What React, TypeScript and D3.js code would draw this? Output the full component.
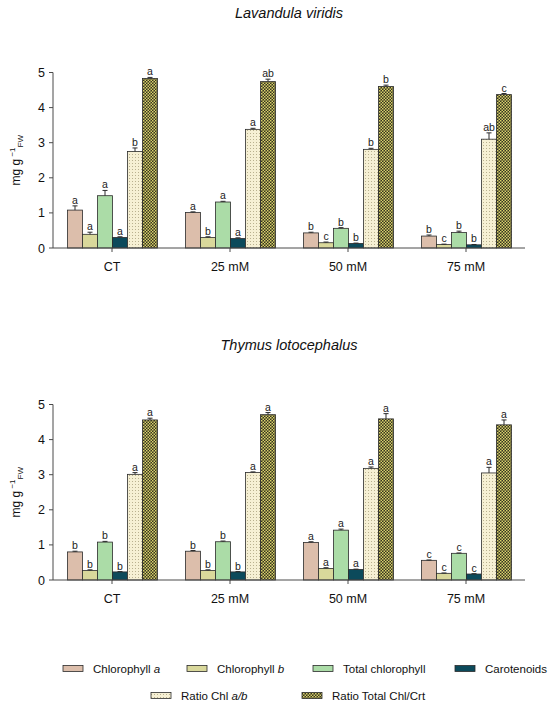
import React from "react";
import * as d3 from "d3";

const groups = ["CT", "25 mM", "50 mM", "75 mM"];
const seriesKeys = ["chla", "chlb", "total", "car", "ratioab", "ratiotot"];
const seriesFills = ["#dcbeab", "#d9d89b", "#abdca7", "#0c4a5b", "url(#dots)", "url(#checker)"];

const titles = ["Lavandula viridis", "Thymus lotocephalus"];

// Lavandula viridis: rows = groups, cols = series
const lavValues = [
  [1.08, 0.39, 1.49, 0.3, 2.75, 4.83],
  [1.01, 0.3, 1.31, 0.27, 3.38, 4.74],
  [0.43, 0.15, 0.56, 0.13, 2.81, 4.6],
  [0.34, 0.1, 0.44, 0.09, 3.1, 4.37],
];
const lavErrors = [
  [0.12, 0.06, 0.15, 0.02, 0.1, 0.03],
  [0.02, 0.02, 0.02, 0.02, 0.03, 0.07],
  [0.02, 0.02, 0.02, 0.01, 0.03, 0.04],
  [0.03, 0.01, 0.04, 0.01, 0.18, 0.03],
];
const lavLetters = [
  ["a", "a", "a", "a", "b", "a"],
  ["a", "b", "a", "a", "a", "ab"],
  ["b", "c", "b", "b", "b", "b"],
  ["b", "c", "b", "b", "ab", "c"],
];

// Thymus lotocephalus
const thyValues = [
  [0.8, 0.27, 1.08, 0.23, 3.01, 4.56],
  [0.82, 0.27, 1.09, 0.23, 3.06, 4.71],
  [1.07, 0.33, 1.42, 0.3, 3.18, 4.59],
  [0.56, 0.19, 0.76, 0.17, 3.05, 4.42],
];
const thyErrors = [
  [0.02, 0.02, 0.02, 0.01, 0.05, 0.05],
  [0.02, 0.02, 0.02, 0.01, 0.02, 0.06],
  [0.02, 0.02, 0.03, 0.01, 0.04, 0.15],
  [0.01, 0.01, 0.01, 0.01, 0.16, 0.14],
];
const thyLetters = [
  ["b", "b", "b", "b", "a", "a"],
  ["b", "b", "b", "b", "a", "a"],
  ["a", "a", "a", "a", "a", "a"],
  ["c", "c", "c", "c", "a", "a"],
];

const yTicks = [0, 1, 2, 3, 4, 5];

const FONT = "Arial, 'Liberation Sans', sans-serif";
const AXIS = "#4a4a4a";

type PanelProps = {
  title: string;
  values: number[][];
  errors: number[][];
  letters: string[][];
  y0: number;
  y5: number;
  titleY: number;
};

function Panel({ title, values, errors, letters, y0, y5, titleY }: PanelProps) {
  const left = 53;
  const right = 525;
  const x = d3.scaleBand<string>().domain(groups).range([left, right]).padding(0);
  const y = d3.scaleLinear().domain([0, 5]).range([y0, y5]);
  const inner = d3
    .scaleBand<string>()
    .domain(seriesKeys)
    .range([14.5, x.bandwidth() - 13.5])
    .padding(0);
  const bw = inner.bandwidth();

  return (
    <g>
      <text
        x={(left + right) / 2}
        y={titleY}
        textAnchor="middle"
        fontFamily={FONT}
        fontStyle="italic"
        fontSize={14.5}
        fill="#111"
      >
        {title}
      </text>

      {groups.map((g, gi) => (
        <g key={g} transform={`translate(${x(g)},0)`}>
          {seriesKeys.map((s, si) => {
            const v = values[gi][si];
            const e = errors[gi][si];
            const bx = inner(s)!;
            const cx = bx + bw / 2;
            const top = y(v);
            const et = y(v + e);
            return (
              <g key={s}>
                <rect
                  x={bx}
                  y={top}
                  width={bw}
                  height={y(0) - top}
                  fill={seriesFills[si]}
                  stroke="#2b2b2b"
                  strokeWidth={0.8}
                />
                <line x1={cx} x2={cx} y1={top} y2={et} stroke="#2b2b2b" strokeWidth={1} />
                <line x1={cx - 2.5} x2={cx + 2.5} y1={et} y2={et} stroke="#2b2b2b" strokeWidth={1} />
                <text
                  x={cx}
                  y={et - 2}
                  textAnchor="middle"
                  fontFamily={FONT}
                  fontSize={10.5}
                  fill="#222"
                >
                  {letters[gi][si]}
                </text>
              </g>
            );
          })}
        </g>
      ))}

      {/* y axis */}
      <line x1={left} x2={left} y1={y(0)} y2={y(5)} stroke={AXIS} strokeWidth={1} />
      {yTicks.map((t) => (
        <g key={t}>
          <line x1={left - 4} x2={left} y1={y(t)} y2={y(t)} stroke={AXIS} strokeWidth={1} />
          <text
            x={left - 8}
            y={y(t)}
            dy="0.36em"
            textAnchor="end"
            fontFamily={FONT}
            fontSize={12.5}
            fill="#111"
          >
            {t}
          </text>
        </g>
      ))}
      {/* x axis */}
      <line x1={left} x2={right} y1={y(0)} y2={y(0)} stroke={AXIS} strokeWidth={1} />
      {groups.map((g) => {
        const cx = x(g)! + x.bandwidth() / 2;
        return (
          <g key={g}>
            <line x1={cx} x2={cx} y1={y(0)} y2={y(0) + 4} stroke={AXIS} strokeWidth={1} />
            <text
              x={cx}
              y={y(0) + 23}
              textAnchor="middle"
              fontFamily={FONT}
              fontSize={12.5}
              fill="#111"
            >
              {g}
            </text>
          </g>
        );
      })}

      {/* y label */}
      <text
        transform={`translate(20,${(y(0) + y(5)) / 2}) rotate(-90)`}
        textAnchor="middle"
        fontFamily={FONT}
        fontSize={12}
        fill="#111"
      >
        mg g
        <tspan fontSize={8} dy={-5}> −1</tspan>
        <tspan fontSize={8} dy={8}>FW</tspan>
      </text>
    </g>
  );
}

const legendLabels: React.ReactNode[] = [
  <>Chlorophyll <tspan fontStyle="italic">a</tspan></>,
  <>Chlorophyll <tspan fontStyle="italic">b</tspan></>,
  <>Total chlorophyll</>,
  <>Carotenoids</>,
  <>Ratio Chl <tspan fontStyle="italic">a/b</tspan></>,
  <>Ratio Total Chl/Crt</>,
];
const legendPos = [
  [63, 668.5],
  [187, 668.5],
  [313, 668.5],
  [455, 668.5],
  [151, 695.5],
  [302, 695.5],
];

export default function App() {
  return (
    <svg
      width={550}
      height={708}
      viewBox="0 0 550 708"
      style={{ position: "absolute", left: 0, top: 0, background: "#fff" }}
    >
      <defs>
        <pattern id="dots" width={3} height={3} patternUnits="userSpaceOnUse">
          <rect width={3} height={3} fill="#f6f0d4" />
          <rect x={1} y={1} width={1} height={1} fill="#b9b18f" />
        </pattern>
        <pattern id="checker" width={3} height={3} patternUnits="userSpaceOnUse">
          <rect width={3} height={3} fill="#35331f" />
          <rect x={0} y={0} width={1.5} height={1.5} fill="#d8d16a" />
          <rect x={1.5} y={1.5} width={1.5} height={1.5} fill="#d8d16a" />
        </pattern>
      </defs>
      <rect width={550} height={708} fill="#fff" />
      <Panel
        title={titles[0]}
        values={lavValues}
        errors={lavErrors}
        letters={lavLetters}
        y0={248}
        y5={72.5}
        titleY={18}
      />
      <Panel
        title={titles[1]}
        values={thyValues}
        errors={thyErrors}
        letters={thyLetters}
        y0={580}
        y5={404.5}
        titleY={350}
      />
      {legendLabels.map((lab, i) => {
        const [lx, ly] = legendPos[i];
        return (
          <g key={i}>
            <rect
              x={lx}
              y={ly - 3}
              width={20}
              height={6}
              fill={seriesFills[i]}
              stroke="#2b2b2b"
              strokeWidth={0.8}
            />
            <text
              x={lx + 30}
              y={ly}
              dy="0.35em"
              fontFamily={FONT}
              fontSize={11.5}
              fill="#111"
            >
              {lab}
            </text>
          </g>
        );
      })}
    </svg>
  );
}
